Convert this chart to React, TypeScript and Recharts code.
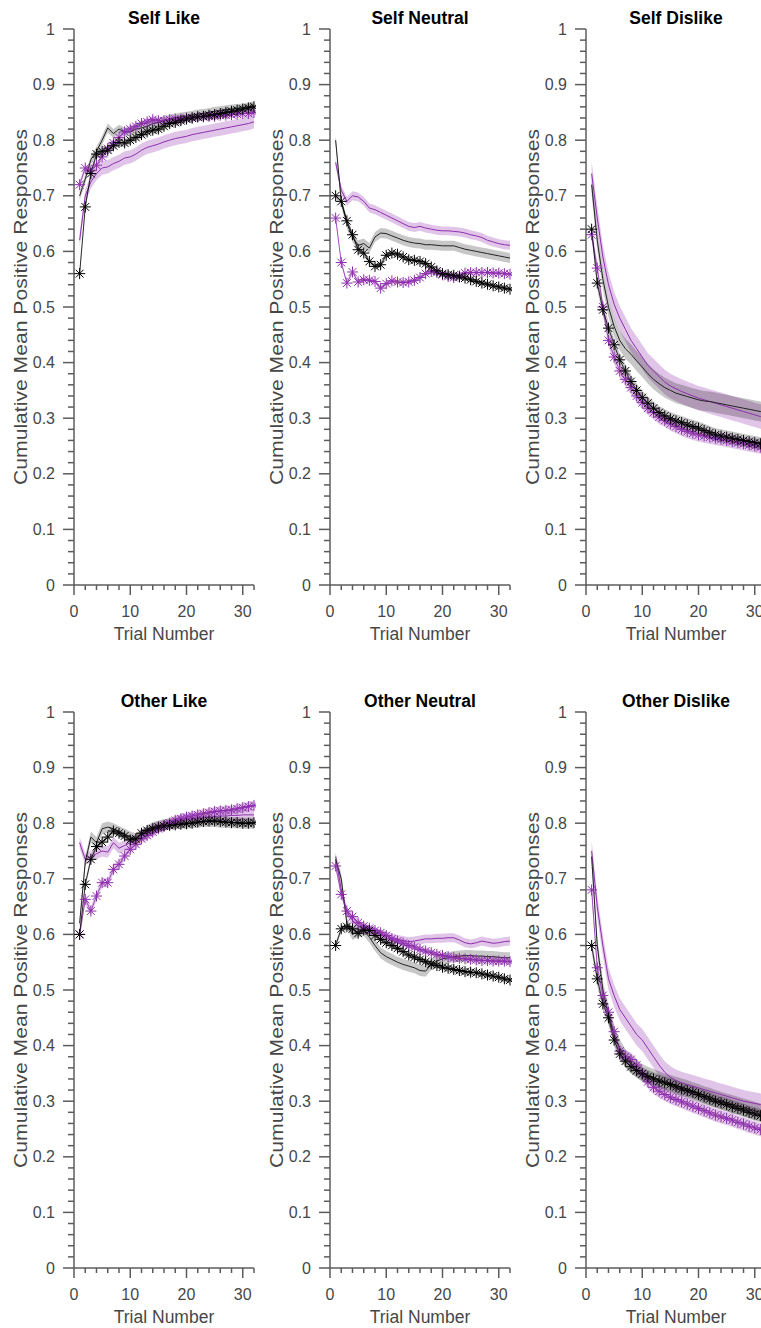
import React from 'react'
import { ComposedChart, Line, Area, XAxis, YAxis } from 'recharts'

const trials = [1, 2, 3, 4, 5, 6, 7, 8, 9, 10, 11, 12, 13, 14, 15, 16, 17, 18, 19, 20, 21, 22, 23, 24, 25, 26, 27, 28, 29, 30, 31, 32]

// Self Like
const selfLikePurpleObs = [0.72, 0.75, 0.745, 0.755, 0.77, 0.785, 0.795, 0.805, 0.815, 0.82, 0.825, 0.83, 0.833, 0.837, 0.835, 0.835, 0.837, 0.838, 0.838, 0.84, 0.84, 0.842, 0.842, 0.843, 0.843, 0.845, 0.845, 0.846, 0.847, 0.848, 0.848, 0.85]
const selfLikeBlackObs = [0.56, 0.68, 0.74, 0.775, 0.78, 0.782, 0.79, 0.796, 0.795, 0.8, 0.805, 0.81, 0.815, 0.818, 0.82, 0.825, 0.83, 0.832, 0.835, 0.838, 0.84, 0.842, 0.843, 0.845, 0.846, 0.848, 0.85, 0.852, 0.854, 0.856, 0.858, 0.86]
const selfLikePurpleFit = [0.62, 0.7, 0.725, 0.74, 0.75, 0.752, 0.758, 0.762, 0.768, 0.77, 0.775, 0.782, 0.787, 0.79, 0.793, 0.797, 0.8, 0.803, 0.805, 0.807, 0.81, 0.812, 0.814, 0.816, 0.818, 0.82, 0.822, 0.824, 0.826, 0.828, 0.83, 0.833]
const selfLikeBlackFit = [0.7, 0.73, 0.765, 0.78, 0.8, 0.822, 0.812, 0.82, 0.815, 0.815, 0.82, 0.822, 0.825, 0.83, 0.832, 0.835, 0.838, 0.84, 0.842, 0.843, 0.845, 0.847, 0.848, 0.85, 0.852, 0.853, 0.855, 0.856, 0.857, 0.858, 0.86, 0.862]

// Self Neutral
const selfNeutralPurpleObs = [0.66, 0.58, 0.543, 0.563, 0.545, 0.549, 0.548, 0.546, 0.534, 0.542, 0.547, 0.545, 0.544, 0.545, 0.548, 0.553, 0.56, 0.564, 0.562, 0.558, 0.555, 0.553, 0.556, 0.561, 0.562, 0.562, 0.562, 0.562, 0.561, 0.561, 0.56, 0.559]
const selfNeutralBlackObs = [0.7, 0.69, 0.655, 0.63, 0.603, 0.597, 0.582, 0.573, 0.576, 0.593, 0.597, 0.595, 0.59, 0.585, 0.584, 0.582, 0.578, 0.572, 0.565, 0.56, 0.558, 0.557, 0.554, 0.552, 0.549, 0.546, 0.543, 0.541, 0.538, 0.536, 0.534, 0.532]
const selfNeutralPurpleFit = [0.76, 0.71, 0.69, 0.7, 0.698, 0.69, 0.678, 0.675, 0.67, 0.665, 0.66, 0.655, 0.65, 0.645, 0.643, 0.645, 0.642, 0.64, 0.638, 0.637, 0.637, 0.636, 0.635, 0.633, 0.63, 0.628, 0.625, 0.62, 0.617, 0.614, 0.612, 0.611]
const selfNeutralBlackFit = [0.8, 0.69, 0.65, 0.626, 0.611, 0.614, 0.606, 0.626, 0.633, 0.632, 0.628, 0.624, 0.62, 0.617, 0.615, 0.614, 0.612, 0.612, 0.611, 0.61, 0.61, 0.61, 0.607, 0.604, 0.602, 0.6, 0.598, 0.596, 0.594, 0.592, 0.59, 0.588]

// Self Dislike
const selfDislikePurpleObs = [0.63, 0.57, 0.5, 0.44, 0.41, 0.385, 0.37, 0.355, 0.34, 0.328, 0.318, 0.31, 0.302, 0.296, 0.29, 0.285, 0.28, 0.276, 0.273, 0.27, 0.268, 0.266, 0.264, 0.262, 0.26, 0.258, 0.256, 0.254, 0.252, 0.25, 0.248, 0.246]
const selfDislikeBlackObs = [0.64, 0.543, 0.495, 0.462, 0.432, 0.405, 0.385, 0.366, 0.35, 0.337, 0.327, 0.318, 0.31, 0.304, 0.299, 0.295, 0.292, 0.288, 0.285, 0.282, 0.278, 0.274, 0.27, 0.268, 0.266, 0.264, 0.262, 0.26, 0.258, 0.256, 0.254, 0.252]
const selfDislikePurpleFit = [0.74, 0.66, 0.59, 0.54, 0.505, 0.48, 0.46, 0.44, 0.425, 0.41, 0.395, 0.385, 0.375, 0.365, 0.358, 0.353, 0.348, 0.344, 0.34, 0.336, 0.333, 0.33, 0.327, 0.324, 0.321, 0.318, 0.315, 0.312, 0.309, 0.306, 0.303, 0.3]
const selfDislikeBlackFit = [0.72, 0.62, 0.55, 0.5, 0.465, 0.44, 0.425, 0.415, 0.403, 0.392, 0.38, 0.37, 0.362, 0.355, 0.35, 0.345, 0.342, 0.339, 0.336, 0.333, 0.331, 0.33, 0.328, 0.326, 0.324, 0.322, 0.32, 0.318, 0.316, 0.314, 0.312, 0.31]

// Other Like
const otherLikePurpleObs = [0.6, 0.663, 0.642, 0.669, 0.693, 0.693, 0.717, 0.726, 0.741, 0.753, 0.762, 0.772, 0.778, 0.784, 0.79, 0.795, 0.8, 0.805, 0.808, 0.811, 0.813, 0.815, 0.817, 0.819, 0.821, 0.822, 0.823, 0.824, 0.826, 0.828, 0.83, 0.832]
const otherLikeBlackObs = [0.6, 0.69, 0.735, 0.758, 0.766, 0.775, 0.786, 0.782, 0.777, 0.77, 0.772, 0.782, 0.787, 0.79, 0.793, 0.795, 0.796, 0.797, 0.798, 0.799, 0.8, 0.802, 0.803, 0.804, 0.804, 0.803, 0.802, 0.801, 0.801, 0.8, 0.8, 0.801]
const otherLikePurpleFit = [0.765, 0.735, 0.74, 0.745, 0.75, 0.748, 0.765, 0.755, 0.76, 0.765, 0.77, 0.778, 0.783, 0.79, 0.793, 0.796, 0.8, 0.803, 0.805, 0.807, 0.808, 0.809, 0.81, 0.811, 0.812, 0.813, 0.813, 0.814, 0.814, 0.815, 0.815, 0.815]
const otherLikeBlackFit = [0.62, 0.73, 0.775, 0.765, 0.79, 0.793, 0.79, 0.785, 0.78, 0.775, 0.772, 0.778, 0.786, 0.792, 0.795, 0.797, 0.798, 0.799, 0.8, 0.8, 0.801, 0.802, 0.803, 0.803, 0.803, 0.802, 0.802, 0.801, 0.801, 0.8, 0.8, 0.8]

// Other Neutral
const otherNeutralPurpleObs = [0.723, 0.672, 0.642, 0.632, 0.621, 0.615, 0.611, 0.607, 0.603, 0.598, 0.592, 0.588, 0.584, 0.58, 0.577, 0.573, 0.57, 0.567, 0.564, 0.562, 0.56, 0.558, 0.557, 0.556, 0.555, 0.554, 0.553, 0.553, 0.552, 0.552, 0.552, 0.551]
const otherNeutralBlackObs = [0.58, 0.61, 0.614, 0.61, 0.602, 0.608, 0.607, 0.598, 0.591, 0.585, 0.58, 0.575, 0.569, 0.563, 0.559, 0.555, 0.551, 0.547, 0.544, 0.541, 0.539, 0.537, 0.535, 0.533, 0.532, 0.531, 0.529, 0.527, 0.525, 0.523, 0.52, 0.518]
const otherNeutralPurpleFit = [0.74, 0.68, 0.64, 0.625, 0.615, 0.61, 0.606, 0.603, 0.6, 0.597, 0.594, 0.591, 0.589, 0.587, 0.588, 0.59, 0.592, 0.592, 0.593, 0.593, 0.594, 0.594, 0.59, 0.585, 0.583, 0.585, 0.588, 0.586, 0.584, 0.585, 0.587, 0.588]
const otherNeutralBlackFit = [0.735, 0.7, 0.62, 0.6, 0.605, 0.607, 0.595, 0.58, 0.567, 0.56, 0.555, 0.55, 0.546, 0.543, 0.54, 0.535, 0.534, 0.546, 0.552, 0.556, 0.558, 0.56, 0.561, 0.562, 0.562, 0.561, 0.561, 0.56, 0.56, 0.559, 0.558, 0.558]

// Other Dislike
const otherDislikePurpleObs = [0.68, 0.54, 0.49, 0.46, 0.425, 0.39, 0.38, 0.375, 0.365, 0.35, 0.335, 0.325, 0.318, 0.312, 0.307, 0.303, 0.299, 0.295, 0.291, 0.287, 0.283, 0.279, 0.275, 0.272, 0.269, 0.266, 0.262, 0.259, 0.255, 0.252, 0.249, 0.246]
const otherDislikeBlackObs = [0.58, 0.52, 0.475, 0.45, 0.41, 0.385, 0.372, 0.362, 0.355, 0.349, 0.344, 0.34, 0.336, 0.333, 0.33, 0.326, 0.322, 0.319, 0.316, 0.312, 0.308, 0.304, 0.3, 0.297, 0.294, 0.29, 0.287, 0.284, 0.28, 0.277, 0.274, 0.271]
const otherDislikePurpleFit = [0.75, 0.65, 0.58, 0.52, 0.49, 0.465, 0.45, 0.435, 0.42, 0.41, 0.395, 0.38, 0.365, 0.352, 0.343, 0.337, 0.333, 0.33, 0.327, 0.324, 0.321, 0.318, 0.315, 0.312, 0.309, 0.306, 0.303, 0.3, 0.298, 0.296, 0.294, 0.292]
const otherDislikeBlackFit = [0.74, 0.58, 0.5, 0.455, 0.42, 0.395, 0.378, 0.367, 0.358, 0.351, 0.346, 0.342, 0.338, 0.334, 0.331, 0.328, 0.325, 0.322, 0.318, 0.315, 0.311, 0.308, 0.304, 0.301, 0.298, 0.295, 0.292, 0.289, 0.286, 0.283, 0.28, 0.278]

const xTicks = [0, 2, 4, 6, 8, 10, 12, 14, 16, 18, 20, 22, 24, 26, 28, 30, 32]
const yTicks = Array.from({ length: 51 }, (_, i) => i / 50)

const PURPLE = '#8f2fae'
const AXIS = '#5c5c5c'
const TEXT = '#474747'
const FONT = '"Liberation Sans", Arial, Helvetica, sans-serif'

type PanelDef = {
  title: string
  purpleObs: number[]
  blackObs: number[]
  purpleFit: number[]
  blackFit: number[]
  // half-widths of the shaded error bands
  se: { pf: number; bf: number; po: number; bo: number }
}

const panels: PanelDef[] = [
  { title: 'Self Like', purpleObs: selfLikePurpleObs, blackObs: selfLikeBlackObs, purpleFit: selfLikePurpleFit, blackFit: selfLikeBlackFit, se: { pf: 0.012, bf: 0.008, po: 0.006, bo: 0.007 } },
  { title: 'Self Neutral', purpleObs: selfNeutralPurpleObs, blackObs: selfNeutralBlackObs, purpleFit: selfNeutralPurpleFit, blackFit: selfNeutralBlackFit, se: { pf: 0.008, bf: 0.009, po: 0.004, bo: 0.005 } },
  { title: 'Self Dislike', purpleObs: selfDislikePurpleObs, blackObs: selfDislikeBlackObs, purpleFit: selfDislikePurpleFit, blackFit: selfDislikeBlackFit, se: { pf: 0.022, bf: 0.018, po: 0.012, bo: 0.012 } },
  { title: 'Other Like', purpleObs: otherLikePurpleObs, blackObs: otherLikeBlackObs, purpleFit: otherLikePurpleFit, blackFit: otherLikeBlackFit, se: { pf: 0.01, bf: 0.01, po: 0.008, bo: 0.006 } },
  { title: 'Other Neutral', purpleObs: otherNeutralPurpleObs, blackObs: otherNeutralBlackObs, purpleFit: otherNeutralPurpleFit, blackFit: otherNeutralBlackFit, se: { pf: 0.008, bf: 0.01, po: 0.006, bo: 0.006 } },
  { title: 'Other Dislike', purpleObs: otherDislikePurpleObs, blackObs: otherDislikeBlackObs, purpleFit: otherDislikePurpleFit, blackFit: otherDislikeBlackFit, se: { pf: 0.02, bf: 0.016, po: 0.012, bo: 0.012 } },
]

function buildRows(p: PanelDef) {
  return trials.map((t, i) => ({
    t,
    pf: p.purpleFit[i],
    bf: p.blackFit[i],
    po: p.purpleObs[i],
    bo: p.blackObs[i],
    pfBand: [p.purpleFit[i] - p.se.pf, p.purpleFit[i] + p.se.pf],
    bfBand: [p.blackFit[i] - p.se.bf, p.blackFit[i] + p.se.bf],
    poBand: [p.purpleObs[i] - p.se.po, p.purpleObs[i] + p.se.po],
    boBand: [p.blackObs[i] - p.se.bo, p.blackObs[i] + p.se.bo],
  }))
}

function Star(props: any) {
  const { cx, cy, color } = props
  if (cx == null || cy == null) return null
  const r = 5.5
  const d = 3.9
  return (
    <g stroke={color} strokeWidth={1} fill="none">
      <line x1={cx - r} y1={cy} x2={cx + r} y2={cy} />
      <line x1={cx} y1={cy - r} x2={cx} y2={cy + r} />
      <line x1={cx - d} y1={cy - d} x2={cx + d} y2={cy + d} />
      <line x1={cx - d} y1={cy + d} x2={cx + d} y2={cy - d} />
    </g>
  )
}

function YTick(props: any) {
  const { x, y, payload } = props
  const v = payload.value
  const major = Math.abs(v * 10 - Math.round(v * 10)) < 1e-6
  return (
    <g>
      <line x1={x - (major ? 11 : 6)} x2={x} y1={y} y2={y} stroke={AXIS} strokeWidth={1.5} />
      {major && (
        <text x={x - 19} y={y} dy="0.35em" textAnchor="end" fontFamily={FONT} fontSize={16} fill={TEXT}>
          {String(Math.round(v * 10) / 10)}
        </text>
      )}
    </g>
  )
}

function XTick(props: any) {
  const { x, y, payload } = props
  const v = payload.value
  const major = v % 10 === 0
  return (
    <g>
      <line x1={x} x2={x} y1={y} y2={y + (major ? 10 : 5)} stroke={AXIS} strokeWidth={1.5} />
      {major && (
        <text x={x} y={y + 26} dy="0.35em" textAnchor="middle" fontFamily={FONT} fontSize={16} fill={TEXT}>
          {v}
        </text>
      )}
    </g>
  )
}

const xLabel = (props: any) => {
  const { x, y, width } = props.viewBox
  return (
    <text x={x + width / 2} y={y + 49} dy="0.35em" textAnchor="middle" fontFamily={FONT} fontSize={17.5} fill={TEXT}>
      Trial Number
    </text>
  )
}

const yLabel = (props: any) => {
  const { x, y, height } = props.viewBox
  const cx = x + 21
  const cy = y + height / 2
  return (
    <text
      x={cx}
      y={cy}
      dy="0.35em"
      transform={`rotate(-90 ${cx} ${cy})`}
      textAnchor="middle"
      fontFamily={FONT}
      fontSize={17.5}
      fill={TEXT}
      textLength={356}
      lengthAdjust="spacingAndGlyphs"
    >
      Cumulative Mean Positive Responses
    </text>
  )
}

function Panel({ p, left, top }: { p: PanelDef; left: number; top: number }) {
  const rows = buildRows(p)
  return (
    <div style={{ position: 'absolute', left, top, width: 256, height: 650 }}>
      <svg width={256} height={30} style={{ position: 'absolute', left: 0, top: 0 }}>
        <text x={164} y={24} textAnchor="middle" fontFamily={FONT} fontWeight="bold" fontSize={17.5} fill="#000">
          {p.title}
        </text>
      </svg>
      <ComposedChart width={256} height={650} data={rows} margin={{ top: 29, right: 2, bottom: 0, left: 0 }}>
        <XAxis
          type="number"
          dataKey="t"
          domain={[0, 32]}
          ticks={xTicks}
          interval={0}
          height={65}
          tickSize={0}
          tickMargin={0}
          tickLine={false}
          axisLine={{ stroke: AXIS, strokeWidth: 1.5 }}
          tick={<XTick />}
          label={xLabel}
        />
        <YAxis
          type="number"
          domain={[0, 1]}
          ticks={yTicks}
          interval={0}
          width={74}
          tickSize={0}
          tickMargin={0}
          tickLine={false}
          axisLine={{ stroke: AXIS, strokeWidth: 1.5 }}
          tick={<YTick />}
          label={yLabel}
        />
        <Area type="linear" dataKey="pfBand" stroke="none" fill={PURPLE} fillOpacity={0.28} isAnimationActive={false} activeDot={false} />
        <Area type="linear" dataKey="bfBand" stroke="none" fill="#000" fillOpacity={0.22} isAnimationActive={false} activeDot={false} />
        <Area type="linear" dataKey="poBand" stroke="none" fill={PURPLE} fillOpacity={0.28} isAnimationActive={false} activeDot={false} />
        <Area type="linear" dataKey="boBand" stroke="none" fill="#000" fillOpacity={0.22} isAnimationActive={false} activeDot={false} />
        <Line type="linear" dataKey="pf" stroke={PURPLE} strokeWidth={1} dot={false} activeDot={false} isAnimationActive={false} />
        <Line type="linear" dataKey="bf" stroke="#222" strokeWidth={1} dot={false} activeDot={false} isAnimationActive={false} />
        <Line type="linear" dataKey="po" stroke={PURPLE} strokeWidth={0.8} dot={<Star color={PURPLE} />} activeDot={false} isAnimationActive={false} />
        <Line type="linear" dataKey="bo" stroke="#000" strokeWidth={0.8} dot={<Star color="#000" />} activeDot={false} isAnimationActive={false} />
      </ComposedChart>
    </div>
  )
}

export default function App() {
  return (
    <div style={{ position: 'absolute', left: 0, top: 0, width: 761, height: 1328, overflow: 'hidden', background: '#fff' }}>
      {panels.map((p, i) => (
        <Panel key={p.title} p={p} left={(i % 3) * 256} top={i < 3 ? 0 : 683} />
      ))}
    </div>
  )
}
